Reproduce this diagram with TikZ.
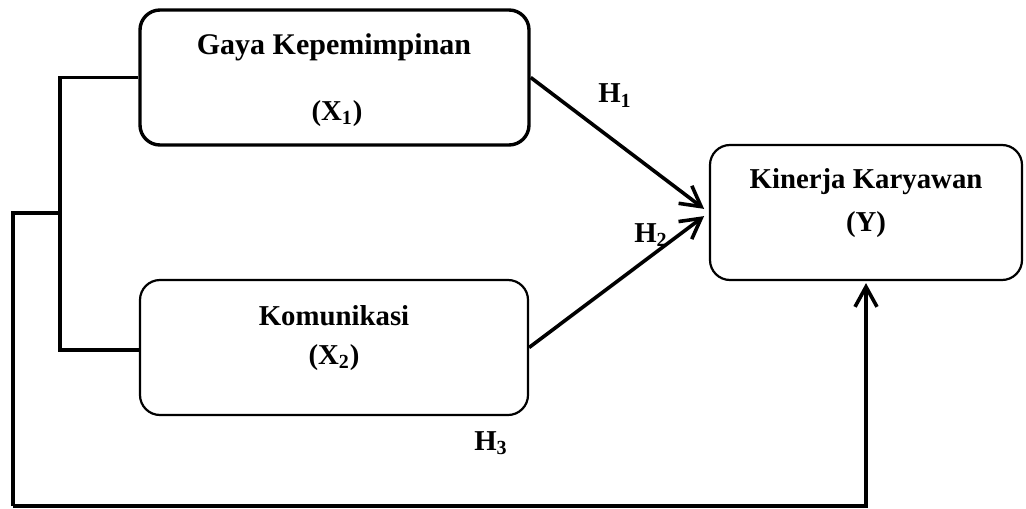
\documentclass[tikz,border=0pt]{standalone}
\usepackage{fontspec}
\setmainfont{Liberation Serif}
\usetikzlibrary{arrows.meta}
\begin{document}
\begin{tikzpicture}[x=0.5pt,y=-0.5pt,
  box/.style={draw,rounded corners=10pt,inner sep=0pt},
  lbl/.style={anchor=base,inner sep=0pt,font=\fontsize{14.4}{17}\selectfont\bfseries},
  conn/.style={line width=1.8pt},
  tip/.style={-{Straight Barb[length=10pt,width=11pt,line width=1.8pt]}}]
\useasboundingbox (0,0) rectangle (1026,508);
% boxes
\node[box,line width=1.7pt,minimum width=194.5pt,minimum height=67.5pt] (b1) at (334.5,77.5) {};
\node[box,line width=1.1pt,minimum width=194pt,minimum height=67.5pt] (b2) at (334,347.5) {};
\node[box,line width=1.1pt,minimum width=156pt,minimum height=67.5pt] (b3) at (866,212.5) {};
% texts
\node[lbl,font=\fontsize{15}{18}\selectfont\bfseries] (t1a) at (334,55) {Gaya Kepemimpinan};
\node[lbl] (t1b) at (337,120) {(X\textsubscript{1})};
\node[lbl] (t2a) at (334,325) {Komunikasi};
\node[lbl] (t2b) at (334,364) {(X\textsubscript{2})};
\node[lbl] (t3a) at (866,188) {Kinerja Karyawan};
\node[lbl] (t3b) at (866,231) {(Y)};
\node[lbl] (h1) at (615,103) {H\textsubscript{1}};
\node[lbl] (h2) at (651,242) {H\textsubscript{2}};
\node[lbl] (h3) at (491,450) {H\textsubscript{3}};
% bracket
\coordinate (j) at (60,213);
\coordinate (c) at (13,506);
\draw[conn] (b1.west) -- (60,77.5) -- (60,350) -- (b2.west |- 0,350);
\draw[conn] (j) -- (13,213) -- (c);
\draw[conn,tip,shorten >=1pt] (c) -| (b3.south);
% arrows
\draw[conn,tip,shorten >=3pt] (b1.east) -- (b3.west);
\draw[conn,tip,shorten >=3pt] (b2.east) -- (b3.west);
\end{tikzpicture}
\end{document}
